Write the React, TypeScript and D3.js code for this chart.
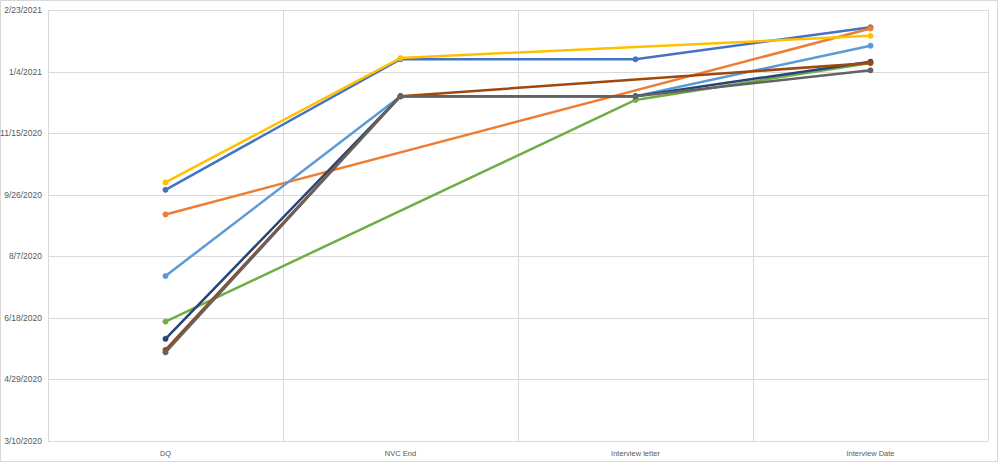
import React, { useEffect, useRef } from 'react';
import * as d3 from 'd3';

const WIDTH = 1000;
const HEIGHT = 463;

const categories = ['DQ', 'NVC End', 'Interview letter', 'Interview Date'];

const tickLabels = ['3/10/2020', '4/29/2020', '6/18/2020', '8/7/2020', '9/26/2020', '11/15/2020', '1/4/2021', '2/23/2021'];

// one entry per series, dates as m/d/yyyy, null = empty cell (line is bridged)
const seriesBlue = ['9/30/2020', '1/14/2021', '1/14/2021', '2/9/2021'];
const seriesOrange = ['9/10/2020', null, null, '2/8/2021'];
const seriesYellow = ['10/6/2020', '1/15/2021', null, '2/2/2021'];
const seriesLightBlue = ['7/22/2020', '12/15/2020', '12/15/2020', '1/25/2021'];
const seriesGreen = ['6/15/2020', null, '12/12/2020', '1/11/2021'];
const seriesDarkBlue = ['6/1/2020', '12/15/2020', '12/15/2020', '1/12/2021'];
const seriesBrown = ['5/23/2020', '12/15/2020', null, '1/11/2021'];
const seriesDarkGray = ['5/21/2020', '12/15/2020', '12/15/2020', '1/5/2021'];

const seriesList: { color: string; values: (string | null)[] }[] = [
  { color: '#4472C4', values: seriesBlue },
  { color: '#ED7D31', values: seriesOrange },
  { color: '#FFC000', values: seriesYellow },
  { color: '#5B9BD5', values: seriesLightBlue },
  { color: '#70AD47', values: seriesGreen },
  { color: '#264478', values: seriesDarkBlue },
  { color: '#9E480E', values: seriesBrown },
  { color: '#636363', values: seriesDarkGray },
];

const parseDate = d3.timeParse('%m/%d/%Y');

const App: React.FC = () => {
  const svgRef = useRef<SVGSVGElement>(null);

  useEffect(() => {
    if (!svgRef.current) return;
    const svg = d3.select(svgRef.current);
    svg.selectAll('*').remove();

    const plot = { left: 48, right: 988, top: 10, bottom: 441 };

    const x = d3.scaleBand<string>().domain(categories).range([plot.left, plot.right]);
    const ticks = tickLabels.map((t) => parseDate(t) as Date);
    const y = d3.scaleTime()
      .domain([ticks[0], ticks[ticks.length - 1]])
      .range([plot.bottom, plot.top]);

    // chart border
    svg.append('rect')
      .attr('x', 0.5).attr('y', 0.5)
      .attr('width', WIDTH - 3).attr('height', HEIGHT - 2)
      .attr('fill', '#fff')
      .attr('stroke', '#d9d9d9');

    const grid = svg.append('g');
    ticks.forEach((t, i) => {
      const yy = Math.round(y(t)) + 0.5;
      grid.append('line')
        .attr('x1', plot.left).attr('x2', plot.right)
        .attr('y1', yy).attr('y2', yy)
        .attr('stroke', '#d9d9d9');
      svg.append('text')
        .attr('x', 42).attr('y', yy)
        .attr('dy', '0.35em')
        .attr('text-anchor', 'end')
        .attr('font-family', 'Liberation Sans, Arial, sans-serif')
        .attr('font-size', 8.5)
        .attr('fill', '#595959')
        .text(tickLabels[i]);
    });

    const bounds = categories.map((c) => x(c) as number).concat([plot.right]);
    bounds.forEach((b) => {
      const xx = Math.round(b) + 0.5;
      grid.append('line')
        .attr('x1', xx).attr('x2', xx)
        .attr('y1', plot.top).attr('y2', plot.bottom)
        .attr('stroke', '#d9d9d9');
    });

    categories.forEach((c) => {
      svg.append('text')
        .attr('x', (x(c) as number) + x.bandwidth() / 2)
        .attr('y', 456)
        .attr('text-anchor', 'middle')
        .attr('font-family', 'Liberation Sans, Arial, sans-serif')
        .attr('font-size', 7.5)
        .attr('fill', '#595959')
        .text(c);
    });

    const cx = (i: number) => (x(categories[i]) as number) + x.bandwidth() / 2;

    seriesList.forEach((s) => {
      const pts = s.values
        .map((v, i) => (v ? { i, d: parseDate(v) as Date } : null))
        .filter((p): p is { i: number; d: Date } => p !== null);

      const line = d3.line<{ i: number; d: Date }>()
        .x((p) => cx(p.i))
        .y((p) => y(p.d));

      const g = svg.append('g');
      g.append('path')
        .attr('d', line(pts) || '')
        .attr('fill', 'none')
        .attr('stroke', s.color)
        .attr('stroke-width', 2.5)
        .attr('stroke-linejoin', 'round')
        .attr('stroke-linecap', 'round');

      g.selectAll('circle')
        .data(pts)
        .enter()
        .append('circle')
        .attr('cx', (p) => cx(p.i))
        .attr('cy', (p) => y(p.d))
        .attr('r', 2.6)
        .attr('fill', s.color)
        .attr('stroke', s.color)
        .attr('stroke-width', 0.75);
    });
  }, []);

  return (
    <div style={{ position: 'fixed', left: 0, top: 0, width: WIDTH, height: HEIGHT, background: '#fff' }}>
      <svg ref={svgRef} width={WIDTH} height={HEIGHT} style={{ display: 'block' }}></svg>
    </div>
  );
};

export default App;
